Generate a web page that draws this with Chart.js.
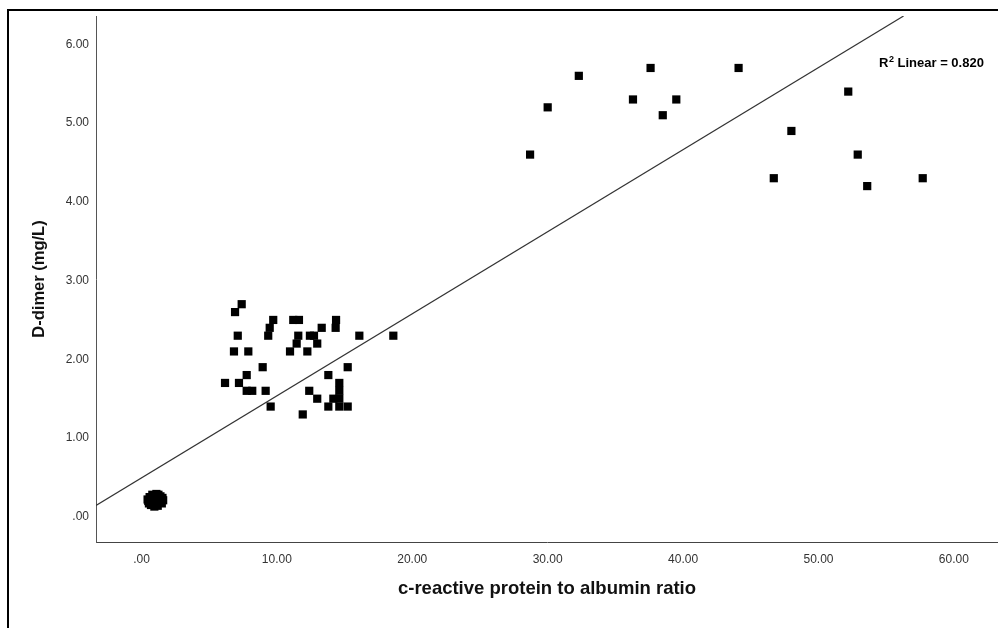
<!DOCTYPE html>
<html lang="en">
<head>
  <meta charset="UTF-8">
  <title>D-dimer vs CRP to albumin ratio</title>
  <script src="https://cdn.jsdelivr.net/npm/chart.js"></script>
  <style>
    html, body { margin: 0; padding: 0; background: #fff; overflow: hidden; }
    /* outer SPSS-style frame, only top and left edges are visible */
    #frame { position: absolute; left: 7px; top: 9px; width: 1200px; height: 800px;
             border-left: 2px solid #000; border-top: 2px solid #000; }
    #chartBox { position: absolute; left: 0; top: 0; width: 998px; height: 628px; }
  </style>
</head>
<body>
  <div id="frame"></div>
  <div id="chartBox">
    <canvas id="scatter" width="998" height="628"></canvas>
  </div>

  <script>
    // c-reactive protein to albumin ratio (x) and D-dimer in mg/L (y)
    const crpAlbRatio = [
      // cluster near zero
      0.5, 0.6, 0.7, 0.8, 0.9, 1.0, 1.1, 1.2, 1.3, 1.4, 1.5, 1.6, 0.45, 0.95, 1.25, 0.75, 1.15, 0.55, 1.55, 1.05,
      // middle cluster
      7.40, 6.91,
      9.73, 11.21, 11.63, 14.37,
      9.47, 13.31, 14.34,
      7.11, 9.36, 11.58, 12.44, 12.74, 16.09, 18.60,
      11.46, 12.98,
      6.83, 7.89, 10.97, 12.25,
      8.95, 15.23,
      7.77, 13.80,
      6.17, 7.20, 14.61,
      7.77, 8.18, 9.17, 12.39, 14.61,
      12.98, 14.17, 14.61,
      9.54, 13.80, 14.61, 15.23,
      11.91,
      // upper cluster
      32.3, 37.6, 44.1, 30.0, 36.3, 39.5, 38.5, 28.7, 52.2, 48.0, 52.9, 46.7, 53.6, 57.7
    ];
    const dDimer = [
      0.20, 0.25, 0.15, 0.28, 0.18, 0.22, 0.29, 0.14, 0.20, 0.26, 0.17, 0.21, 0.22, 0.13, 0.28, 0.20, 0.20, 0.17, 0.24, 0.16,
      2.7, 2.6,
      2.5, 2.5, 2.5, 2.5,
      2.4, 2.4, 2.4,
      2.3, 2.3, 2.3, 2.3, 2.3, 2.3, 2.3,
      2.2, 2.2,
      2.1, 2.1, 2.1, 2.1,
      1.9, 1.9,
      1.8, 1.8,
      1.7, 1.7, 1.7,
      1.6, 1.6, 1.6, 1.6, 1.6,
      1.5, 1.5, 1.5,
      1.4, 1.4, 1.4, 1.4,
      1.3,
      5.6, 5.7, 5.7, 5.2, 5.3, 5.3, 5.1, 4.6, 5.4, 4.9, 4.6, 4.3, 4.2, 4.3
    ];

    const xTicks = [0, 10, 20, 30, 40, 50, 60];
    const yTicks = [0, 1, 2, 3, 4, 5, 6];
    const xMin = -3.36, xMax = 63.26;
    const yMin = -0.32, yMax = 6.36;

    // linear fit shown in the figure
    const fitIntercept = 0.495;
    const fitSlope = 0.1042;
    const r2Value = 0.820;

    const points = crpAlbRatio.map((x, i) => ({ x: x, y: dDimer[i] }));
    // fit line runs from the left edge of the plot until it reaches the top
    const fitLine = [
      { x: xMin, y: fitIntercept + fitSlope * xMin },
      { x: (yMax - fitIntercept) / fitSlope, y: yMax }
    ];

    const fontFamily = '"Liberation Sans", Arial, sans-serif';

    function fmt(v) {
      return v.toFixed(2).replace(/^0\./, '.');
    }

    // draws the "R2 Linear = 0.820" note in the top right corner
    const r2Label = {
      id: 'r2Label',
      afterDatasetsDraw(chart) {
        const { ctx, chartArea } = chart;
        ctx.save();
        ctx.fillStyle = '#000';
        ctx.textBaseline = 'alphabetic';
        ctx.textAlign = 'left';
        let x = chartArea.right - 119;
        const y = chartArea.top + 51;
        ctx.font = 'bold 13px ' + fontFamily;
        ctx.fillText('R', x, y);
        x += ctx.measureText('R').width + 0.5;
        ctx.font = 'bold 9px ' + fontFamily;
        ctx.fillText('2', x, y - 5);
        x += ctx.measureText('2').width;
        ctx.font = 'bold 13px ' + fontFamily;
        ctx.fillText(' Linear = ' + r2Value.toFixed(3), x, y);
        ctx.restore();
      }
    };

    new Chart(document.getElementById('scatter'), {
      type: 'scatter',
      data: {
        datasets: [
          {
            label: 'Observed',
            data: points,
            pointStyle: 'rect',
            pointRadius: 5.8,
            pointBorderWidth: 0,
            backgroundColor: '#000',
            borderColor: '#000'
          },
          {
            type: 'line',
            label: 'Linear fit',
            data: fitLine,
            borderColor: '#333',
            borderWidth: 1.2,
            pointRadius: 0,
            fill: false
          }
        ]
      },
      options: {
        responsive: false,
        animation: false,
        layout: { autoPadding: false, padding: { top: 16, left: 0, right: 0, bottom: 0 } },
        plugins: {
          legend: { display: false },
          tooltip: { enabled: false }
        },
        scales: {
          x: {
            type: 'linear',
            min: xMin,
            max: xMax,
            afterBuildTicks: s => { s.ticks = xTicks.map(v => ({ value: v })); },
            afterFit: s => { s.height = 86; },
            grid: { display: false, drawTicks: false },
            border: { display: true, color: '#444', width: 1 },
            ticks: {
              padding: 10,
              color: '#333',
              font: { family: fontFamily, size: 12 },
              callback: v => fmt(v)
            },
            title: {
              display: true,
              text: 'c-reactive protein to albumin ratio',
              color: '#111',
              font: { family: fontFamily, size: 18.5, weight: 'bold' },
              padding: { top: 0, bottom: 28 }
            }
          },
          y: {
            type: 'linear',
            min: yMin,
            max: yMax,
            afterBuildTicks: s => { s.ticks = yTicks.map(v => ({ value: v })); },
            afterFit: s => { s.width = 96; },
            grid: { display: false, drawTicks: false },
            border: { display: true, color: '#555', width: 1 },
            ticks: {
              padding: 7,
              color: '#333',
              font: { family: fontFamily, size: 12 },
              callback: v => fmt(v)
            },
            title: {
              display: true,
              text: 'D-dimer (mg/L)',
              color: '#111',
              font: { family: fontFamily, size: 16.5, weight: 'bold' },
              padding: { top: 30, bottom: 0 }
            }
          }
        }
      },
      plugins: [r2Label]
    });
  </script>
</body>
</html>
